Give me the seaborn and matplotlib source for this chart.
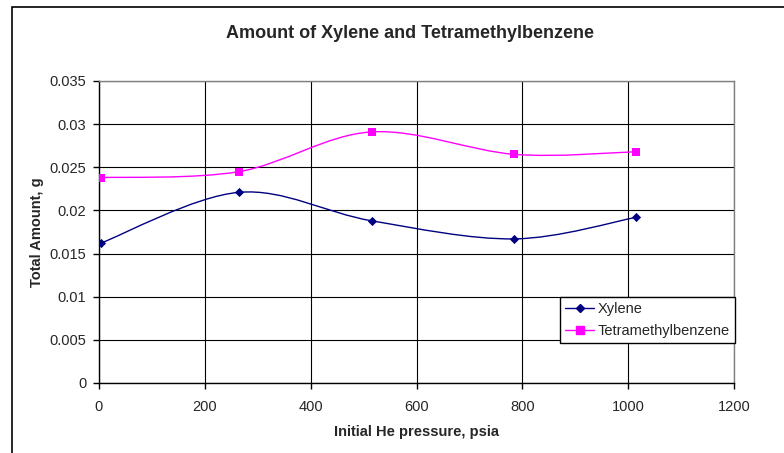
import numpy as np
import pandas as pd
import seaborn as sns
import matplotlib
matplotlib.use("Agg")
import matplotlib.pyplot as plt
from matplotlib.path import Path
from matplotlib.patches import PathPatch, Rectangle
from matplotlib.lines import Line2D
from matplotlib.ticker import FuncFormatter

# data
pressure = [3, 265, 515, 785, 1015]
xylene = [0.0162, 0.0221, 0.0188, 0.0167, 0.0192]
tetra = [0.0238, 0.0245, 0.0291, 0.0265, 0.0268]
series_names = ["Xylene", "Tetramethylbenzene"]
series_colors = ["#000080", "#FF00FF"]

df = pd.DataFrame({
    "pressure": pressure * 2,
    "amount": xylene + tetra,
    "series": [series_names[0]] * len(pressure) + [series_names[1]] * len(pressure),
})

sns.set_style("white")
plt.rcParams["font.family"] = ["Liberation Sans", "DejaVu Sans"]


def smooth_path(xs, ys):
    # excel-like smoothed line: cubic bezier, catmull-rom style handles
    pts = np.column_stack([xs, ys]).astype(float)
    n = len(pts)
    verts = [pts[0]]
    codes = [Path.MOVETO]
    for i in range(n - 1):
        p_prev = pts[max(i - 1, 0)]
        p0 = pts[i]
        p1 = pts[i + 1]
        p_next = pts[min(i + 2, n - 1)]
        c1 = p0 + (p1 - p_prev) / 6.0
        c2 = p1 - (p_next - p0) / 6.0
        verts += [c1, c2, p1]
        codes += [Path.CURVE4] * 3
    return Path(verts, codes)


fig = plt.figure(figsize=(7.84, 4.53), dpi=100)
ax = fig.add_axes([99 / 784, 70 / 453, 635 / 784, 302 / 453])

ax.set_xlim(0, 1200)
ax.set_ylim(0, 0.035)
ax.set_xticks(np.arange(0, 1201, 200))
ax.set_yticks(np.arange(0, 0.0351, 0.005))
ax.yaxis.set_major_formatter(FuncFormatter(lambda v, p: "%g" % round(v, 4)))
ax.grid(True, color="black", linewidth=0.8)
ax.set_axisbelow(True)

for ys, color in zip([xylene, tetra], series_colors):
    ax.add_patch(PathPatch(smooth_path(pressure, ys), facecolor="none",
                           edgecolor=color, linewidth=1.0, zorder=2))

sns.scatterplot(data=df[df.series == series_names[0]], x="pressure", y="amount",
                marker="D", s=22, color=series_colors[0], linewidth=0, ax=ax,
                zorder=3, legend=False)
sns.scatterplot(data=df[df.series == series_names[1]], x="pressure", y="amount",
                marker="s", s=30, color=series_colors[1], linewidth=0, ax=ax,
                zorder=3, legend=False)

for side in ["left", "bottom"]:
    ax.spines[side].set_color("black")
    ax.spines[side].set_linewidth(1.0)
for side in ["top", "right"]:
    ax.spines[side].set_color("#808080")
    ax.spines[side].set_linewidth(1.0)

ax.tick_params(axis="both", direction="out", length=4, width=1, color="black",
               labelsize=10.5, left=True, bottom=True)
ax.tick_params(axis="x", pad=8)
ax.tick_params(axis="y", pad=5)

ax.set_xlabel("Initial He pressure, psia", fontsize=10.5, fontweight="bold", labelpad=8)
ax.set_ylabel("Total Amount, g", fontsize=10.5, fontweight="bold", labelpad=4)

fig.text(410 / 784, 1 - 33 / 453, "Amount of Xylene and Tetramethylbenzene",
         ha="center", va="center", fontsize=13, fontweight="bold")

handles = [
    Line2D([], [], color=series_colors[0], marker="D", markersize=4.5, linewidth=1),
    Line2D([], [], color=series_colors[1], marker="s", markersize=5.5, linewidth=1),
]
leg = ax.legend(handles, series_names, loc="upper right",
                bbox_to_anchor=(735 / 784, 1 - 297 / 453), bbox_transform=fig.transFigure,
                borderaxespad=0, fancybox=False, framealpha=1, edgecolor="black",
                fontsize=10.5, handlelength=2.0, handletextpad=0.25,
                borderpad=0.35, labelspacing=0.55)
leg.get_frame().set_linewidth(1.0)

# outer chart border (right/bottom run off the image)
fig.patches.append(Rectangle((12 / 784, -0.2), 2.0, 1.2 - 7 / 453,
                             transform=fig.transFigure, fill=False,
                             edgecolor="black", linewidth=1.2))

fig.savefig("out.png", dpi=100)
